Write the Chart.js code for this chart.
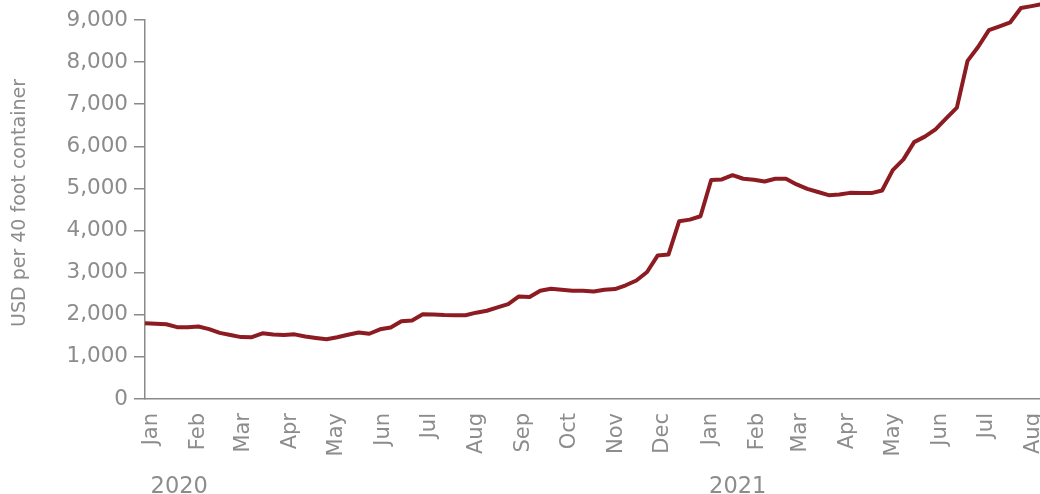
<!DOCTYPE html>
<html><head><meta charset="utf-8">
<script src="https://cdn.jsdelivr.net/npm/chart.js@4.4.1/dist/chart.umd.min.js"></script>
<style>
html,body{margin:0;padding:0;overflow:hidden;background:#fff;width:1040px;height:494px}
#wrap{width:1060px;height:494px;position:relative}
</style>
</head><body><div id="wrap"><canvas id="c" width="1060" height="494"></canvas></div>
<script>
// Weekly series, first observation in the week of 29 Dec 2019
const firstWeek = '2019-12-29';
const rates = [
  1800, 1785, 1775, 1706, 1705, 1720, 1660, 1570, 1520, 1470,
  1468, 1560, 1530, 1520, 1535, 1485, 1450, 1420, 1465, 1525,
  1580, 1550, 1655, 1700, 1845, 1865, 2010, 2008, 1995, 1990,
  1990, 2050, 2095, 2175, 2255, 2435, 2420, 2570, 2620, 2595,
  2572, 2570, 2555, 2595, 2610, 2700, 2815, 3015, 3410, 3430,
  4220, 4260, 4340, 5200, 5215, 5315, 5230, 5205, 5165, 5230,
  5230, 5095, 4990, 4915, 4840, 4855, 4895, 4890, 4890, 4950,
  5435, 5690, 6100, 6230, 6405, 6665, 6920, 8030, 8365, 8760,
  8850, 8945, 9285, 9330, 9380
];
const monthLabels = ['Jan','Feb','Mar','Apr','May','Jun','Jul','Aug','Sep','Oct','Nov','Dec',
                     'Jan','Feb','Mar','Apr','May','Jun','Jul','Aug'];
const monthStarts = ['2020-01-01','2020-02-01','2020-03-01','2020-04-01','2020-05-01','2020-06-01',
                     '2020-07-01','2020-08-01','2020-09-01','2020-10-01','2020-11-01','2020-12-01',
                     '2021-01-01','2021-02-01','2021-03-01','2021-04-01','2021-05-01','2021-06-01',
                     '2021-07-01','2021-08-01'];
const yearLabels = ['2020','2021'];
const yearStarts = ['2020-01-01','2021-01-01'];
const yTicks = [0,1000,2000,3000,4000,5000,6000,7000,8000,9000];
const yTitle = 'USD per 40 foot container';

const ORIGIN = Date.parse('2020-01-01T00:00:00Z');
const dayOf = s => (Date.parse(s + 'T00:00:00Z') - ORIGIN) / 86400000;
const start = dayOf(firstWeek);
const points = rates.map((v, i) => ({x: start + 7 * i, y: v}));

const GRAY = '#8c8c8c';
const AXIS = '#8a8a8a';
const FONT = 'DejaVu Sans';

const labelsPlugin = {
  id: 'extraLabels',
  afterDraw(chart) {
    const {ctx} = chart;
    const x = chart.scales.x;
    ctx.save();
    ctx.fillStyle = GRAY;
    ctx.font = '22.5px "' + FONT + '"';
    ctx.textAlign = 'left';
    ctx.textBaseline = 'middle';
    yearLabels.forEach((t, i) => {
      ctx.fillText(t, x.getPixelForValue(dayOf(yearStarts[i])) + 1, 487);
    });
    // rotated y-axis title
    ctx.translate(20, 203);
    ctx.rotate(-Math.PI / 2);
    ctx.font = '19px "' + FONT + '"';
    ctx.textAlign = 'center';
    ctx.fillText(yTitle, 0, 0);
    ctx.restore();
  }
};

new Chart(document.getElementById('c'), {
  type: 'line',
  data: {
    datasets: [{
      data: points,
      borderColor: '#8c1c22',
      borderWidth: 4,
      pointRadius: 0,
      tension: 0,
      fill: false,
      clip: false,
      borderJoinStyle: 'round'
    }]
  },
  options: {
    responsive: false,
    animation: false,
    layout: {padding: {top: 20, right: 13, left: 0, bottom: 0}},
    plugins: {legend: {display: false}, tooltip: {enabled: false}},
    scales: {
      x: {
        type: 'linear',
        min: start,
        max: start + 7 * (rates.length - 1),
        afterBuildTicks: ax => { ax.ticks = monthStarts.map(s => ({value: dayOf(s)})); },
        afterFit: ax => { ax.height = 95; },
        grid: {display: false, drawTicks: true, tickLength: 11},
        border: {display: true, color: AXIS, width: 1.5},
        ticks: {
          autoSkip: false, maxRotation: 90, minRotation: 90, padding: 3, labelOffset: 2,
          color: GRAY, font: {family: FONT, size: 21},
          callback: (v, i) => monthLabels[i]
        }
      },
      y: {
        min: 0, max: 9000,
        afterBuildTicks: ax => { ax.ticks = yTicks.map(v => ({value: v})); },
        afterFit: ax => { ax.width = 145; },
        grid: {drawOnChartArea: false, drawTicks: true, tickLength: 11, color: AXIS, lineWidth: 1.5},
        border: {display: true, color: AXIS, width: 1.5},
        ticks: {
          padding: 6, color: GRAY, font: {family: FONT, size: 21.5},
          callback: v => v.toLocaleString('en-US')
        },
        title: {display: false}
      }
    }
  },
  plugins: [labelsPlugin]
});
</script>
</body></html>
